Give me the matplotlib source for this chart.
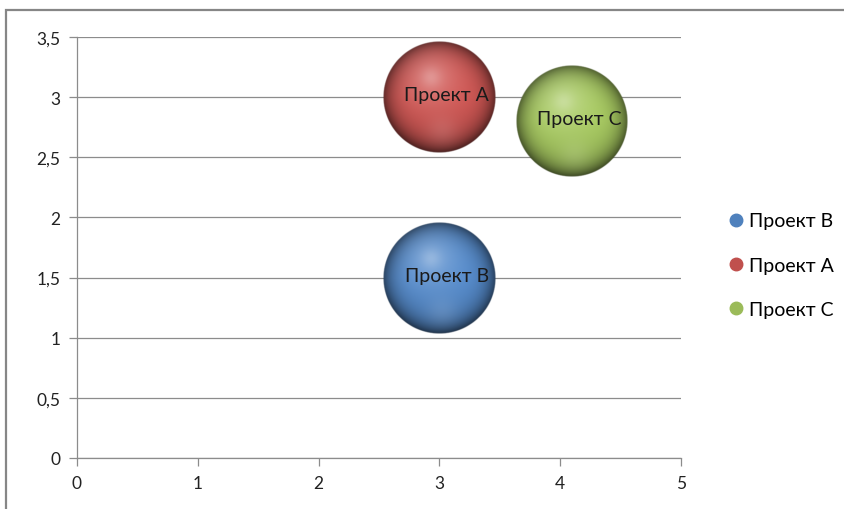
import numpy as np
import matplotlib
matplotlib.use("Agg")
import matplotlib.pyplot as plt
from matplotlib.patches import Rectangle
from matplotlib.lines import Line2D
from matplotlib.colors import to_rgb

# ---- data ----
names = ["Проект B", "Проект A", "Проект C"]
x_vals = [3.0, 3.0, 4.1]
y_vals = [1.5, 3.0, 2.8]
sizes = [1.0, 1.0, 1.0]          # bubble sizes (relative)
colors = ["#4F81BD", "#C0504D", "#9BBB59"]
x_ticks = [0, 1, 2, 3, 4, 5]
y_ticks = [0, 0.5, 1, 1.5, 2, 2.5, 3, 3.5]

plt.rcParams['font.family'] = ['Lato', 'DejaVu Sans']

fig = plt.figure(figsize=(8.44, 5.10), dpi=100)
ax = fig.add_axes([77/844, 51/510, 604/844, 421/510])

# outer chart frame
fig.patches.append(Rectangle((6/844, -0.1), 1.2, (499/510) + 0.1,
                             transform=fig.transFigure, fill=False,
                             edgecolor="#868686", lw=1.6, zorder=0))

ax.set_xlim(0, 5)
ax.set_ylim(0, 3.5)
ax.set_xticks(x_ticks)
ax.set_yticks(y_ticks)
fmt = lambda v: (("%g" % v).replace(".", ","))
ax.set_xticklabels([fmt(v) for v in x_ticks])
ax.set_yticklabels([fmt(v) for v in y_ticks])
ax.grid(axis="y", color="#8c8c8c", lw=0.9)
ax.set_axisbelow(True)
for s in ["top", "right"]:
    ax.spines[s].set_visible(False)
for s in ["left", "bottom"]:
    ax.spines[s].set_color("#8c8c8c")
    ax.spines[s].set_linewidth(0.9)
ax.tick_params(axis="both", colors="#8c8c8c", length=6, width=0.9,
               labelcolor="#222222", labelsize=12.5)
ax.tick_params(axis="y", pad=6)
ax.tick_params(axis="x", pad=6)

px_per_x = 604 / 5
px_per_y = 421 / 3.5
base_r_px = 56


def sphere_img(color, n=240):
    c = np.array(to_rgb(color))
    c = np.clip(c * 1.08, 0, 1)
    yy, xx = np.mgrid[1:-1:n*1j, -1:1:n*1j]
    r = np.sqrt(xx**2 + yy**2)
    shade = 1.0 - 0.55 * np.clip(r, 0, 1)**5 - 0.12 * np.clip(-yy, 0, 1)
    img = c[None, None, :] * shade[..., None]
    d = np.sqrt((xx + 0.15)**2 + (yy - 0.35)**2)
    h = np.exp(-(d / 0.5)**2) * 0.22 + np.exp(-(d / 0.18)**2) * 0.15
    img = img * (1 - h[..., None]) + h[..., None]
    d2 = np.sqrt((xx - 0.05)**2 + (yy + 0.6)**2)
    h2 = np.exp(-(d2 / 0.28)**2) * 0.10
    img = img * (1 - h2[..., None]) + h2[..., None]
    alpha = np.clip((1 - r) * n / 2.5, 0, 1)
    return np.dstack([np.clip(img, 0, 1), alpha])


for name, x, y, s, c in zip(names, x_vals, y_vals, sizes, colors):
    rx = base_r_px * np.sqrt(s) / px_per_x
    ry = base_r_px * np.sqrt(s) / px_per_y
    ax.imshow(sphere_img(c), extent=(x - rx, x + rx, y - ry, y + ry),
              aspect="auto", zorder=3, interpolation="bilinear")
    ax.text(x + 0.06, y + 0.02, name, ha="center", va="center",
            fontsize=14, color="#1a1a1a", zorder=5)

ax.set_xlim(0, 5)
ax.set_ylim(0, 3.5)
ax.set_aspect("auto")

handles = [Line2D([], [], ls="none", marker="o", markersize=9,
                  markerfacecolor=c, markeredgecolor=c) for c in colors]
fig.legend(handles, names, loc="upper left", bbox_to_anchor=(707/844, 1 - 196/510),
           frameon=False, fontsize=14, handletextpad=0.05, labelspacing=1.4,
           handlelength=1.2)

fig.savefig("out.png", dpi=100)
